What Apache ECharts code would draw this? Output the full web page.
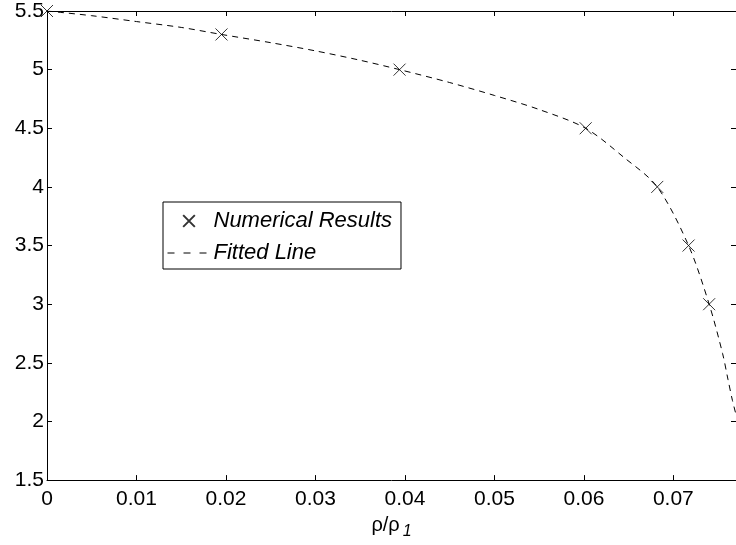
<!DOCTYPE html>
<html>
<head>
<meta charset="utf-8">
<script src="https://cdn.jsdelivr.net/npm/echarts@6/dist/echarts.min.js"></script>
<style>html,body{margin:0;padding:0;background:#fff}#c{width:736px;height:545px}</style>
</head>
<body>
<div id="c"></div>
<script>
// Numerical results (markers)
const markerX = [0, 0.0195, 0.0394, 0.0602, 0.0682, 0.0717, 0.0740];
const markerY = [5.5, 5.3, 5.0, 4.5, 4.0, 3.5, 3.0];
// Fitted line
const fitX = [0, 0.005, 0.01, 0.015, 0.0195, 0.025, 0.03, 0.035, 0.0394, 0.045, 0.05, 0.055, 0.0602, 0.0645, 0.0682, 0.0717, 0.074, 0.0755, 0.0761, 0.0766, 0.0772];
const fitY = [5.5, 5.46, 5.41, 5.36, 5.3, 5.23, 5.16, 5.08, 5.0, 4.89, 4.78, 4.66, 4.5, 4.25, 4.0, 3.5, 3.0, 2.58, 2.36, 2.18, 2.0];
const xTicks = {min: 0, max: 0.077, interval: 0.01};
const yTicks = {min: 1.5, max: 5.5, interval: 0.5};
const seriesNames = ['Numerical Results', 'Fitted Line'];

const FONT = 'Liberation Sans';
const cross = 'path://M0,0L10,10M10,0L0,10';
const crossLegend = 'path://M-1,-1M11,11M0,0L10,10M10,0L0,10';

const chart = echarts.init(document.getElementById('c'));
const tickCommon = {show: true, inside: true, length: 5, lineStyle: {color: '#000', width: 1}};
const lineCommon = {show: true, onZero: false, lineStyle: {color: '#000', width: 1}};
chart.setOption({
  animation: false,
  grid: {left: 47, top: 11, right: 0, bottom: 63, containLabel: false},
  legend: {
    left: 163, top: 202, orient: 'vertical',
    backgroundColor: '#fff', borderColor: '#000', borderWidth: 1,
    padding: [8, 9, 5, 4], itemGap: 10, itemWidth: 43, itemHeight: 14,
    textStyle: {fontFamily: FONT, fontSize: 22, fontStyle: 'italic', color: '#000', padding: [0, 0, 0, -2]},
    data: [
      {name: seriesNames[0], icon: crossLegend},
      {name: seriesNames[1], lineStyle: {type: [7, 9], color: '#000', width: 1},
       itemStyle: {color: 'rgba(0,0,0,0)', borderColor: 'rgba(0,0,0,0)', borderWidth: 0}}
    ]
  },
  xAxis: [
    {type: 'value', position: 'bottom', min: xTicks.min, max: xTicks.max, interval: xTicks.interval,
     axisLine: lineCommon, axisTick: tickCommon, splitLine: {show: false},
     axisLabel: {showMaxLabel: false, margin: 9, color: '#000', fontFamily: FONT, fontSize: 21,
       formatter: v => String(+v.toFixed(3))},
     name: '{a|ρ/ρ}{b|1}', nameLocation: 'middle', nameGap: 29,
     nameTextStyle: {rich: {
       a: {fontFamily: FONT, fontSize: 20, color: '#000'},
       b: {fontFamily: FONT, fontSize: 16, fontStyle: 'italic', color: '#000', padding: [14, 0, 0, 3]}
     }}},
    {type: 'value', position: 'top', min: xTicks.min, max: xTicks.max, interval: xTicks.interval,
     axisLine: lineCommon, axisTick: tickCommon, axisLabel: {show: false}, splitLine: {show: false}}
  ],
  yAxis: [
    {type: 'value', position: 'left', min: yTicks.min, max: yTicks.max, interval: yTicks.interval,
     axisLine: lineCommon, axisTick: tickCommon, splitLine: {show: false},
     axisLabel: {margin: 3, color: '#000', fontFamily: FONT, fontSize: 21}},
    {type: 'value', position: 'right', min: yTicks.min, max: yTicks.max, interval: yTicks.interval,
     axisLine: lineCommon, axisTick: tickCommon, axisLabel: {show: false}, splitLine: {show: false}}
  ],
  series: [
    {name: seriesNames[0], type: 'scatter', symbol: cross, symbolSize: 12,
     itemStyle: {color: 'none', borderColor: '#000', borderWidth: 1},
     data: markerX.map((x, i) => [x, markerY[i]]), z: 3},
    {name: seriesNames[1], type: 'line', smooth: 0.3, showSymbol: false, symbol: 'none',
     lineStyle: {color: '#000', width: 1, type: [6, 5]}, itemStyle: {color: 'rgba(0,0,0,0)'},
     data: fitX.map((x, i) => [x, fitY[i]]), clip: true, z: 2}
  ]
});
</script>
</body>
</html>
